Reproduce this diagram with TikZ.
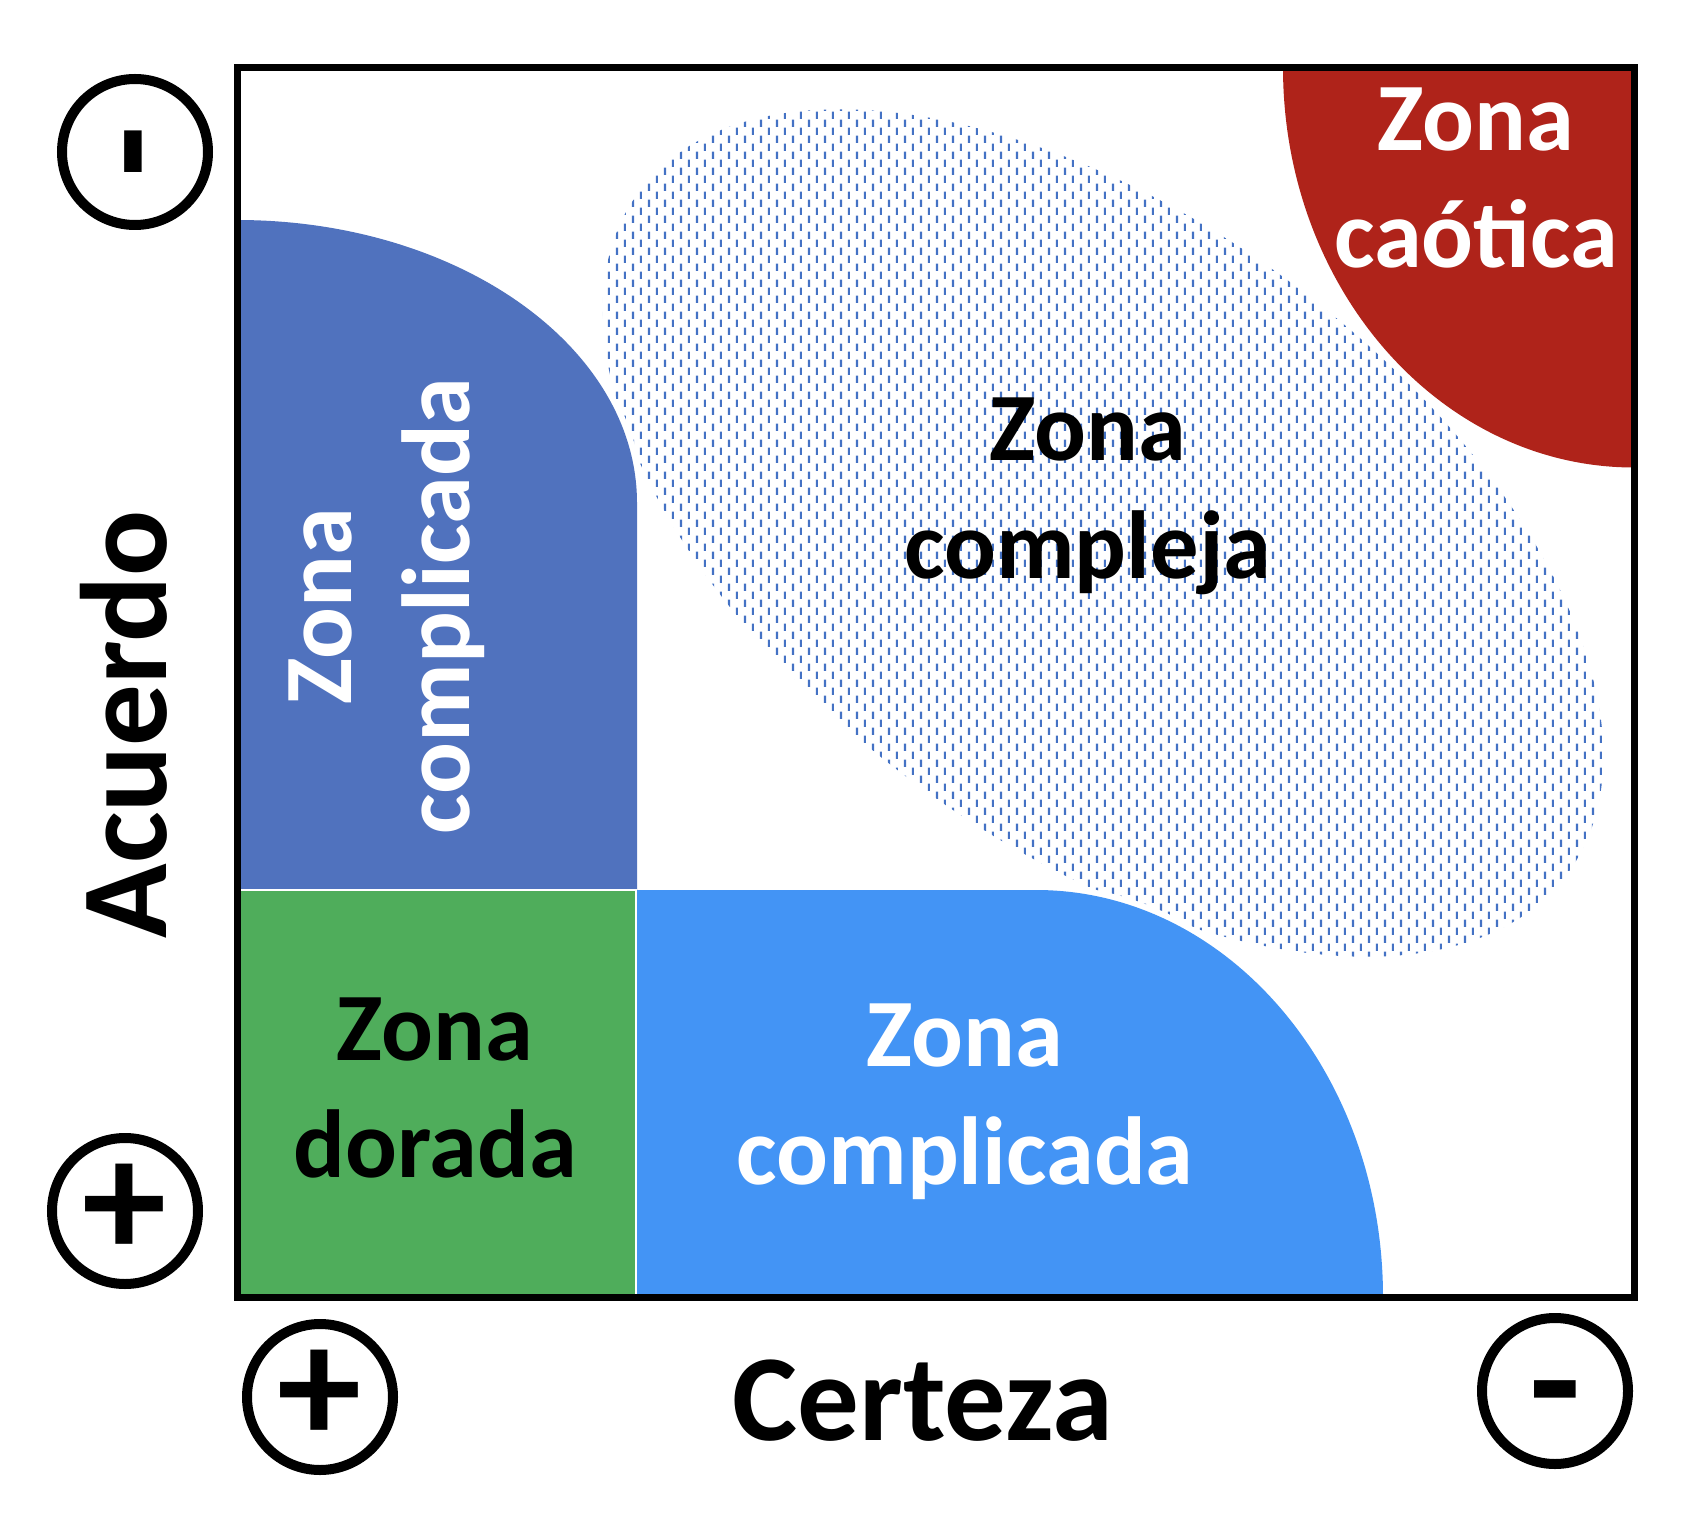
\documentclass[tikz,border=0pt]{standalone}
\usepackage{fontspec}
\setmainfont{Carlito}
\usetikzlibrary{patterns}
\definecolor{zonablue}{RGB}{80,114,190}
\definecolor{zonagreen}{RGB}{79,173,91}
\definecolor{zonasky}{RGB}{67,148,245}
\definecolor{zonared}{RGB}{175,35,26}
\definecolor{dashblue}{RGB}{68,114,196}
\pgfdeclarepatternformonly{vdashes}{\pgfqpoint{0pt}{0pt}}{\pgfqpoint{4.55pt}{4.55pt}}{\pgfqpoint{4.55pt}{4.55pt}}{%
    \pgfpathrectangle{\pgfqpoint{0.28pt}{0pt}}{\pgfqpoint{0.57pt}{2.13pt}}%
    \pgfpathrectangle{\pgfqpoint{2.56pt}{2.28pt}}{\pgfqpoint{0.57pt}{2.13pt}}%
    \pgfusepath{fill}%
}
\tikzset{
    zonelabel/.style={align=center, inner sep=0pt, font=\bfseries\fontsize{27.5}{33.5}\selectfont},
    axislabel/.style={inner sep=0pt, font=\bfseries\fontsize{35}{42}\selectfont},
    signcircle/.style={circle, draw=black, line width=0.1cm, minimum size=1.46cm, inner sep=0pt, font=\bfseries\fontsize{48}{58}\selectfont},
    frameline/.style={line width=0.07cm},
    arcgap/.style={draw=white, line width=0.12cm},
}
\begin{document}
\begin{tikzpicture}
    \useasboundingbox (0,0) rectangle (17.06,15.26);

    \fill[pattern=vdashes, pattern color=dashblue] (11.03,9.93) ellipse [x radius=5.76, y radius=3.13, rotate=-36.2];

    \draw[arcgap] (2.37,13.06) arc[start angle=90, end angle=0, x radius=4.0, y radius=2.83];
    \fill[zonablue] (2.37,6.36) -- (2.37,13.06) arc[start angle=90, end angle=0, x radius=4.0, y radius=2.83] -- (6.37,6.36) -- cycle;
    \draw[arcgap] (10.36,6.36) arc[start angle=90, end angle=0, x radius=3.47, y radius=4.07];
    \fill[zonasky] (6.36,2.29) -- (6.36,6.36) -- (10.36,6.36) arc[start angle=90, end angle=0, x radius=3.47, y radius=4.07] -- cycle;
    \draw[arcgap] (12.83,14.585) arc[start angle=180, end angle=270, x radius=3.51, y radius=4.0];
    \fill[zonared] (16.34,14.585) -- (12.83,14.585) arc[start angle=180, end angle=270, x radius=3.51, y radius=4.0] -- cycle;
    \fill[zonagreen, draw=white, line width=0.02cm] (2.37,2.29) rectangle (6.36,6.36);

    \draw[frameline] (2.37,2.29) rectangle (16.34,14.585);

    \node[zonelabel, text=white, rotate=90] (complicadav) at (3.87,9.20) {Zona\\complicada};
    \node[zonelabel] (compleja) at (10.88,10.30) {Zona\\compleja};
    \node[zonelabel, text=white] (caotica) at (14.76,13.48) {Zona\\caótica};
    \node[zonelabel] (dorada) at (4.35,4.38) {Zona\\dorada};
    \node[zonelabel, text=white] (complicadah) at (9.65,4.245) {Zona\\complicada};

    \node[axislabel, anchor=base] (certeza) at (9.23,0.86) {Certeza};
    \node[axislabel, anchor=base, rotate=90] (acuerdo) at (1.66,8.02) {Acuerdo};

    \node[signcircle, rotate=90] (acuerdomenos) at (1.35,13.74) {\raisebox{-.275em}[0pt][0pt]{-}};
    \node[signcircle] (acuerdomas) at (1.25,3.15) {+};
    \node[signcircle] (certezamas) at (3.20,1.29) {+};
    \node[signcircle] (certezamenos) at (15.55,1.35) {\raisebox{-.275em}[0pt][0pt]{-}};
\end{tikzpicture}
\end{document}
